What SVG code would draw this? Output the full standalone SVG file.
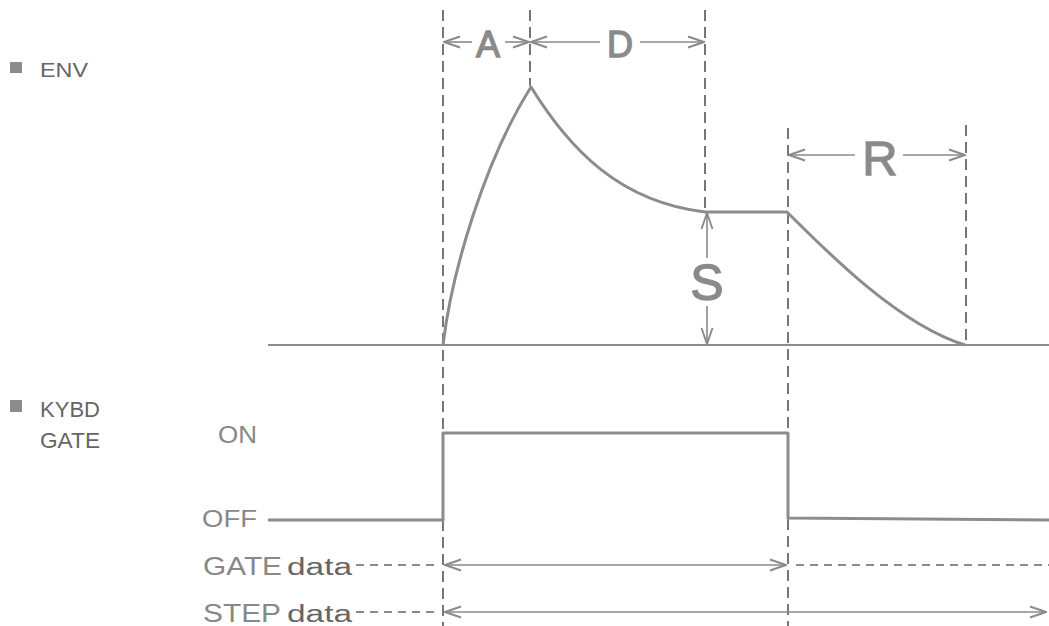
<svg xmlns="http://www.w3.org/2000/svg" width="1049" height="626" viewBox="0 0 1049 626">
<style>
.bg{fill:#ffffff}
.vd{stroke:#555;stroke-width:1.6;stroke-dasharray:11 6;fill:none}
.hd{stroke:#8a8a8a;stroke-width:2;stroke-dasharray:8 6;fill:none}
.dim{stroke:#8a8a8a;stroke-width:1.6;fill:none}
.curve{stroke:#8c8c8c;stroke-width:3;fill:none;stroke-linejoin:round}
.base{stroke:#8c8c8c;stroke-width:2.2;fill:none}
.lbl{font-family:"Liberation Sans",Arial,sans-serif;fill:#666}
.big{font-family:"Liberation Sans",Arial,sans-serif;fill:#8a8a8a;stroke:#8a8a8a;stroke-width:1.3;text-anchor:middle}
.sq{fill:#8c8c8c}
</style>
<defs>
<marker id="ah" viewBox="0 0 18 14" refX="17" refY="7" markerWidth="18" markerHeight="14" markerUnits="userSpaceOnUse" orient="auto-start-reverse">
<path d="M1,1.5 L17,7 L1,12.5" fill="none" stroke="#8a8a8a" stroke-width="1.9"/>
</marker>
</defs>
<rect class="bg" x="0" y="0" width="1049" height="626"/>

<g id="guides">
<line class="vd" x1="443" y1="10" x2="443" y2="626"/>
<line class="vd" x1="530" y1="10" x2="530" y2="86"/>
<line class="vd" x1="705" y1="10" x2="705" y2="210"/>
<line class="vd" x1="788" y1="128" x2="788" y2="626"/>
<line class="vd" x1="966" y1="125" x2="966" y2="343"/>
</g>

<g id="env">
<line class="base" x1="268" y1="345" x2="1049" y2="345"/>
<path class="curve" d="M443,345 C452,270 485,160 531,87 C570,150 620,202 705,212 L787,212 C830,255 900,325 965,345"/>
</g>

<g id="gate">
<path class="curve" d="M268,520 H443 V433 H788 V518 L1049,520"/>
</g>

<g id="connectors">
<line class="dim" x1="472" y1="42" x2="444" y2="42" marker-end="url(#ah)"/>
<line class="dim" x1="505" y1="42" x2="529" y2="42" marker-end="url(#ah)"/>
<line class="dim" x1="600" y1="42" x2="531" y2="42" marker-end="url(#ah)"/>
<line class="dim" x1="640" y1="42" x2="704" y2="42" marker-end="url(#ah)"/>
<line class="dim" x1="855" y1="155" x2="789" y2="155" marker-end="url(#ah)"/>
<line class="dim" x1="903" y1="155" x2="965" y2="155" marker-end="url(#ah)"/>
<line class="dim" x1="707" y1="258" x2="707" y2="213" marker-end="url(#ah)"/>
<line class="dim" x1="707" y1="306" x2="707" y2="344" marker-end="url(#ah)"/>
<line class="hd" x1="356" y1="565" x2="440" y2="565"/>
<line class="dim" x1="445" y1="565" x2="786" y2="565" marker-start="url(#ah)" marker-end="url(#ah)"/>
<line class="hd" x1="796" y1="565" x2="1049" y2="565"/>
<line class="hd" x1="356" y1="612" x2="440" y2="612"/>
<line class="dim" x1="445" y1="612" x2="1046" y2="612" marker-start="url(#ah)" marker-end="url(#ah)"/>
</g>

<g id="label-A"><text class="big" x="488" y="57" font-size="36">A</text></g>
<g id="label-D"><text class="big" x="620" y="57" font-size="36">D</text></g>
<g id="label-R"><text class="big" x="880" y="175" font-size="49">R</text></g>
<g id="label-S"><text class="big" x="707" y="300" font-size="50">S</text></g>

<g id="legend-env">
<rect class="sq" x="10" y="62" width="12" height="11"/>
<text class="lbl" x="40" y="77" font-size="21" textLength="48" lengthAdjust="spacingAndGlyphs">ENV</text>
</g>
<g id="legend-kybd">
<rect class="sq" x="10" y="400" width="12" height="12"/>
<text class="lbl" x="40" y="417" font-size="22" textLength="60" lengthAdjust="spacingAndGlyphs">KYBD</text>
<text class="lbl" x="40" y="448" font-size="22" textLength="60" lengthAdjust="spacingAndGlyphs">GATE</text>
</g>
<g id="label-on"><text class="lbl" x="218" y="443" font-size="23" style="fill:#888" textLength="39" lengthAdjust="spacingAndGlyphs">ON</text></g>
<g id="label-off"><text class="lbl" x="202" y="527" font-size="24" style="fill:#888" textLength="55" lengthAdjust="spacingAndGlyphs">OFF</text></g>
<g id="label-gatedata">
<text class="lbl" x="203" y="575" font-size="25" style="fill:#888" textLength="79" lengthAdjust="spacingAndGlyphs">GATE</text>
<text class="lbl" x="287" y="575" font-size="23" style="fill:#666" textLength="65" lengthAdjust="spacingAndGlyphs">data</text>
</g>
<g id="label-stepdata">
<text class="lbl" x="203" y="622" font-size="25" style="fill:#888" textLength="78" lengthAdjust="spacingAndGlyphs">STEP</text>
<text class="lbl" x="287" y="622" font-size="23" style="fill:#666" textLength="65" lengthAdjust="spacingAndGlyphs">data</text>
</g>
</svg>
